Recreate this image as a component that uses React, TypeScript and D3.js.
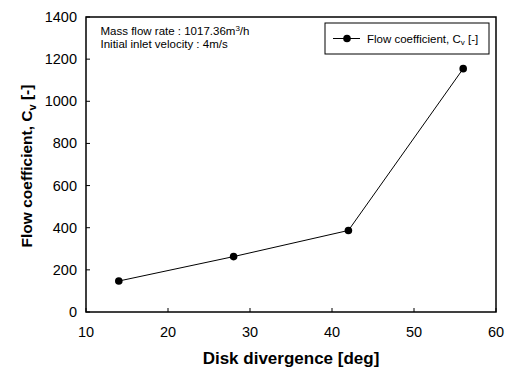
import { useEffect, useRef } from "react";
import * as d3 from "d3";

// Data
const divergence = [14, 28, 42, 56];
const flowCoef = [147, 263, 387, 1155];
const xTicks = [10, 20, 30, 40, 50, 60];
const yTicks = [0, 200, 400, 600, 800, 1000, 1200, 1400];

const W = 506;
const H = 370;
const FONT = "'Liberation Sans', Arial, sans-serif";

export default function App() {
  const svgRef = useRef<SVGSVGElement>(null);

  useEffect(() => {
    if (!svgRef.current) return;
    const svg = d3.select(svgRef.current);
    svg.selectAll("*").remove();

    const margin = { top: 17, right: 10, bottom: 58, left: 86 };
    const innerW = W - margin.left - margin.right;
    const innerH = H - margin.top - margin.bottom;

    const x = d3.scaleLinear().domain([10, 60]).range([0, innerW]);
    const y = d3.scaleLinear().domain([0, 1400]).range([innerH, 0]);

    const g = svg.append("g").attr("transform", `translate(${margin.left},${margin.top})`);

    // ── Frame ─────────────────────────────────────────
    g.append("rect")
      .attr("x", 0).attr("y", 0)
      .attr("width", innerW).attr("height", innerH)
      .attr("fill", "none")
      .attr("stroke", "#000")
      .attr("stroke-width", 1.5);

    // ── Ticks (inward) ────────────────────────────────
    g.selectAll(".xt")
      .data(xTicks)
      .join("line")
      .attr("x1", (d) => x(d)).attr("x2", (d) => x(d))
      .attr("y1", innerH).attr("y2", innerH - 4)
      .attr("stroke", "#000");
    g.selectAll(".xl")
      .data(xTicks)
      .join("text")
      .attr("x", (d) => x(d))
      .attr("y", innerH + 24.5)
      .attr("text-anchor", "middle")
      .attr("font-family", FONT)
      .attr("font-size", 14.5)
      .text((d) => d);

    g.selectAll(".yt")
      .data(yTicks)
      .join("line")
      .attr("x1", 0).attr("x2", 4)
      .attr("y1", (d) => y(d)).attr("y2", (d) => y(d))
      .attr("stroke", "#000");
    g.selectAll(".yl")
      .data(yTicks)
      .join("text")
      .attr("x", -9)
      .attr("y", (d) => y(d) + 5)
      .attr("text-anchor", "end")
      .attr("font-family", FONT)
      .attr("font-size", 14.5)
      .text((d) => d);

    // ── Series ────────────────────────────────────────
    const pts = divergence.map((d, i) => [d, flowCoef[i]] as [number, number]);
    const line = d3.line<[number, number]>().x((d) => x(d[0])).y((d) => y(d[1]));
    g.append("path")
      .attr("d", line(pts))
      .attr("fill", "none")
      .attr("stroke", "#000")
      .attr("stroke-width", 1);
    g.selectAll(".pt")
      .data(pts)
      .join("circle")
      .attr("cx", (d) => x(d[0]))
      .attr("cy", (d) => y(d[1]))
      .attr("r", 3.8)
      .attr("fill", "#000");

    // ── Annotation ────────────────────────────────────
    const note = g.append("text")
      .attr("x", 14.5).attr("y", 18)
      .attr("font-family", FONT)
      .attr("font-size", 11.5);
    note.append("tspan").text("Mass flow rate : 1017.36m");
    note.append("tspan").attr("font-size", 8).attr("dy", -4.5).text("3");
    note.append("tspan").attr("dy", 4.5).text("/h");
    g.append("text")
      .attr("x", 14.5).attr("y", 30.5)
      .attr("font-family", FONT)
      .attr("font-size", 11.5)
      .text("Initial inlet velocity : 4m/s");

    // ── Legend ────────────────────────────────────────
    const lg = g.append("g").attr("transform", `translate(${innerW - 171},${6})`);
    lg.append("rect")
      .attr("width", 164).attr("height", 31)
      .attr("fill", "#fff")
      .attr("stroke", "#000")
      .attr("stroke-width", 1);
    lg.append("line")
      .attr("x1", 8).attr("x2", 35)
      .attr("y1", 15.5).attr("y2", 15.5)
      .attr("stroke", "#000");
    lg.append("circle").attr("cx", 22).attr("cy", 15.5).attr("r", 3.8).attr("fill", "#000");
    const lt = lg.append("text")
      .attr("x", 42).attr("y", 19.5)
      .attr("font-family", FONT)
      .attr("font-size", 11.5);
    lt.append("tspan").text("Flow coefficient, C");
    lt.append("tspan").attr("font-size", 8).attr("dy", 2.5).text("v");
    lt.append("tspan").attr("dy", -2.5).text(" [-]");

    // ── Axis titles ───────────────────────────────────
    svg.append("text")
      .attr("x", margin.left + innerW / 2)
      .attr("y", 364)
      .attr("text-anchor", "middle")
      .attr("font-family", FONT)
      .attr("font-size", 17)
      .attr("font-weight", "bold")
      .text("Disk divergence [deg]");

    const yt = svg.append("text")
      .attr("transform", `translate(32,${166}) rotate(-90)`)
      .attr("text-anchor", "middle")
      .attr("font-family", FONT)
      .attr("font-size", 15.5)
      .attr("font-weight", "bold");
    yt.append("tspan").text("Flow coefficient, C");
    yt.append("tspan").attr("font-size", 11).attr("dy", 3.5).text("v");
    yt.append("tspan").attr("dy", -3.5).text(" [-]");
  }, []);

  return (
    <svg
      ref={svgRef}
      width={W}
      height={H}
      style={{ position: "absolute", left: 0, top: 0, background: "#fff" }}
    />
  );
}
